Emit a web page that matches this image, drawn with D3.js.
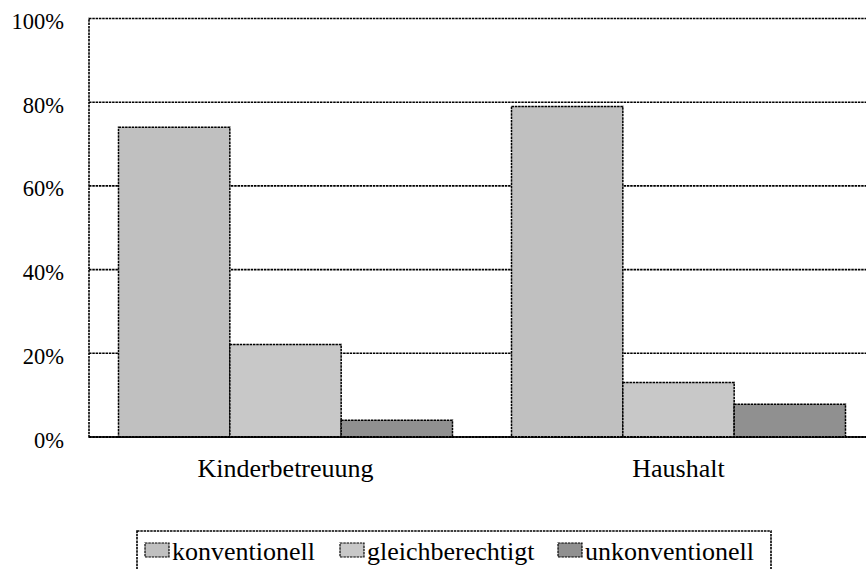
<!DOCTYPE html>
<html><head><meta charset="utf-8">
<script src="https://cdn.jsdelivr.net/npm/d3@7"></script>
<style>
html,body{margin:0;padding:0;background:#fff;}
text{font-family:'Liberation Serif','Times New Roman',Times,'DejaVu Serif',serif;}
</style></head>
<body>
<svg id="chart" width="866" height="569"></svg>
<script>
const categories = ["Kinderbetreuung", "Haushalt"];
const seriesNames = ["konventionell", "gleichberechtigt", "unkonventionell"];
const konventionell = [0.74, 0.79];
const gleichberechtigt = [0.221, 0.13];
const unkonventionell = [0.04, 0.078];
const yTicks = [0, 0.2, 0.4, 0.6, 0.8, 1.0];
const colors = ["#c0c0c0", "#c8c8c8", "#909090"];

const FONT = "'Liberation Serif','Times New Roman',Times,serif";
const DASH = "2.5,0.8";
const seriesValues = [konventionell, gleichberechtigt, unkonventionell];
const svg = d3.select("#chart");
const plotLeft = 89, plotRight = 875, plotTop = 18.5, plotBottom = 437;

const y = d3.scaleLinear().domain([0, 1]).range([plotBottom, plotTop]);
const x0 = d3.scaleBand().domain(categories).range([plotLeft, plotRight]).padding(0);
const x1 = d3.scaleBand().domain(seriesNames).range([0, x0.bandwidth()]).paddingInner(0).paddingOuter(0.265);
const color = d3.scaleOrdinal().domain(seriesNames).range(colors);

// frame
svg.append("rect").attr("x", plotLeft).attr("y", plotTop).attr("width", plotRight - plotLeft).attr("height", plotBottom - plotTop)
  .attr("fill", "none").attr("stroke", "#000").attr("stroke-width", 1.6).attr("stroke-dasharray", DASH);

// gridlines
svg.append("g").selectAll("line").data(yTicks.filter(d => d > 0 && d < 1)).join("line")
  .attr("x1", plotLeft).attr("x2", plotRight).attr("y1", d => y(d)).attr("y2", d => y(d))
  .attr("stroke", "#000").attr("stroke-width", 1.6).attr("stroke-dasharray", DASH);

// y labels
svg.append("g").selectAll("text").data(yTicks).join("text")
  .attr("x", 64).attr("y", d => y(d) + 3).attr("text-anchor", "end").attr("dominant-baseline", "central")
  .attr("font-family", FONT).attr("font-size", 22.5).attr("fill", "#000")
  .text(d => d3.format(".0%")(d));

// bars
const rows = [];
categories.forEach((c, i) => seriesNames.forEach((s, j) => rows.push({ c, s, v: seriesValues[j][i] })));
svg.append("g").selectAll("rect").data(rows).join("rect")
  .attr("x", d => x0(d.c) + x1(d.s))
  .attr("y", d => y(d.v))
  .attr("width", x1.bandwidth())
  .attr("height", d => y(0) - y(d.v))
  .attr("fill", d => color(d.s))
  .attr("stroke", "#000").attr("stroke-width", 1.5).attr("stroke-dasharray", DASH);

// baseline
svg.append("line").attr("x1", plotLeft).attr("x2", plotRight).attr("y1", plotBottom).attr("y2", plotBottom)
  .attr("stroke", "#000").attr("stroke-width", 2.2).attr("stroke-dasharray", DASH);

// x labels
svg.append("g").selectAll("text").data(categories).join("text")
  .attr("x", d => x0(d) + x0.bandwidth() / 2).attr("y", 477)
  .attr("text-anchor", "middle").attr("font-family", FONT).attr("font-size", 26).attr("fill", "#000")
  .text(d => d);

// legend
svg.append("rect").attr("x", 137).attr("y", 531).attr("width", 634).attr("height", 60)
  .attr("fill", "none").attr("stroke", "#000").attr("stroke-width", 1.6).attr("stroke-dasharray", DASH);
const legendX = [145, 340, 558];
const lg = svg.append("g").selectAll("g").data(seriesNames).join("g")
  .attr("transform", (d, i) => `translate(${legendX[i]},0)`);
lg.append("rect").attr("x", 0).attr("y", 543).attr("width", 24).attr("height", 14)
  .attr("fill", d => color(d)).attr("stroke", "#000").attr("stroke-width", 1.2).attr("stroke-dasharray", DASH);
lg.append("text").attr("x", 27).attr("y", 560).attr("font-family", FONT).attr("font-size", 26).attr("fill", "#000").text(d => d);
</script>
</body></html>
